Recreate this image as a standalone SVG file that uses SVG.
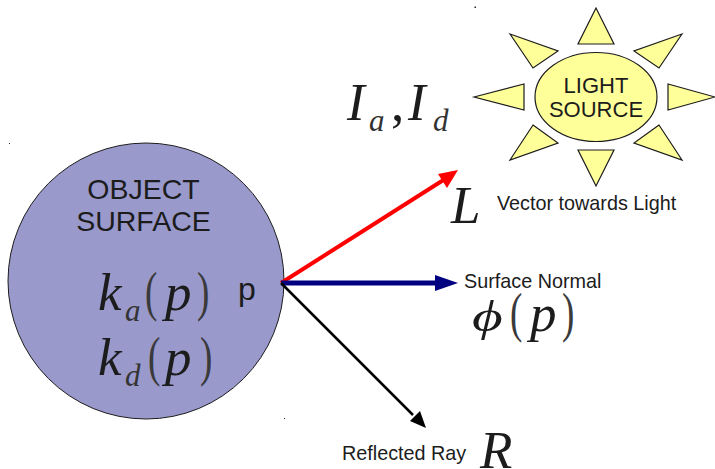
<svg xmlns="http://www.w3.org/2000/svg" width="715" height="469" viewBox="0 0 715 469">
<style>
.s{font-family:"Liberation Sans",Arial,sans-serif;fill:#1c1c1c}
.m{font-family:"Liberation Serif","Times New Roman",serif;font-style:italic;fill:#1c1c1c;font-size:53px}
.b{font-family:"Liberation Serif","Times New Roman",serif;font-style:italic;fill:#333;font-size:31px}
.n{font-family:"Liberation Serif","Times New Roman",serif;fill:#1c1c1c;font-size:53px}
.t{fill:#3a3a3a}
.l{font-size:19.800px}
.h{font-size:28.500px;text-anchor:middle}
.ray{fill:#ffff99;stroke:#1c1c1c;stroke-width:1.2;stroke-linejoin:miter}
</style>
<rect width="715" height="469" fill="#fff"/>
<g id="specks" fill="#222"><rect x="474.500" y="6.500" width="1.500" height="1.500"/><rect x="9" y="143" width="1" height="1"/><rect x="284" y="418" width="1" height="1"/></g>
<g id="object-surface">
<circle cx="146" cy="281" r="138" fill="#9999cc" stroke="#1c1c1c" stroke-width="1"/>
<text class="s h" x="143.500" y="199">OBJECT</text>
<text class="s h" x="143.500" y="231">SURFACE</text>
<text class="m" x="98" y="310">k</text><text class="b" x="125" y="321">a</text>
<text class="n t" transform="translate(145 309.500) scale(.7 1.05)">(</text><text class="m" x="165" y="310">p</text><text class="n t" transform="translate(197 309.500) scale(.7 1.05)">)</text>
<text class="m" x="98" y="375">k</text><text class="b" x="125" y="386">d</text>
<text class="n t" transform="translate(148 374.500) scale(.7 1.05)">(</text><text class="m" x="165" y="375">p</text><text class="n t" transform="translate(200 374.500) scale(.7 1.05)">)</text>
<text class="s" font-size="32" x="238" y="300">p</text>
</g>
<g id="light-source">
<polygon class="ray" points="596,8 578,44 614,44"/>
<polygon class="ray" points="578,150 614,150 596,186"/>
<polygon class="ray" points="474,97 524,84 524,110"/>
<polygon class="ray" points="668,84 668,110 715,97"/>
<polygon class="ray" points="510,34 558,51 533,68"/>
<polygon class="ray" points="682,34 634,51 659,68"/>
<polygon class="ray" points="533,125 558,143 510,160"/>
<polygon class="ray" points="659,125 634,143 682,160"/>
<ellipse cx="596" cy="97" rx="61" ry="44.500" fill="#ffff99" stroke="#1c1c1c" stroke-width="1.200"/>
<text class="s" font-size="22" text-anchor="middle" x="596" y="92.500">LIGHT</text>
<text class="s" font-size="22" text-anchor="middle" x="596" y="116.500">SOURCE</text>
</g>
<g id="connectors">
<line x1="281" y1="283" x2="445" y2="179" stroke="#ff0000" stroke-width="4"/>
<polygon points="458,170 438,174 447,188" fill="#ff0000"/>
<line x1="281" y1="283" x2="440" y2="283" stroke="#000080" stroke-width="5"/>
<polygon points="458,283 435,275 435,291" fill="#000080"/>
<line x1="281" y1="283" x2="413" y2="415" stroke="#000" stroke-width="2.500"/>
<polygon points="426,428 410,421 420,411" fill="#000"/>
</g>
<g id="label-intensity">
<text class="m" x="347" y="120">I</text><text class="b" x="369" y="131">a</text>
<text class="n" x="391" y="120">,</text>
<text class="m" x="408" y="120">I</text><text class="b" x="433" y="131">d</text>
</g>
<g id="label-l">
<text class="m" x="451" y="223">L</text>
<text class="s l" x="497" y="210">Vector towards Light</text>
</g>
<g id="label-normal">
<text class="s l" x="464" y="288">Surface Normal</text>
<text class="m" style="font-size:44px" transform="translate(472 331) scale(1.35 1)">ϕ</text>
<text class="n t" transform="translate(510 331) scale(.7 1.05)">(</text><text class="m" x="530" y="331">p</text><text class="n t" transform="translate(562 331) scale(.7 1.05)">)</text>
</g>
<g id="label-r">
<text class="s l" x="342" y="460">Reflected Ray</text>
<text class="m" x="480" y="468">R</text>
</g>
</svg>
